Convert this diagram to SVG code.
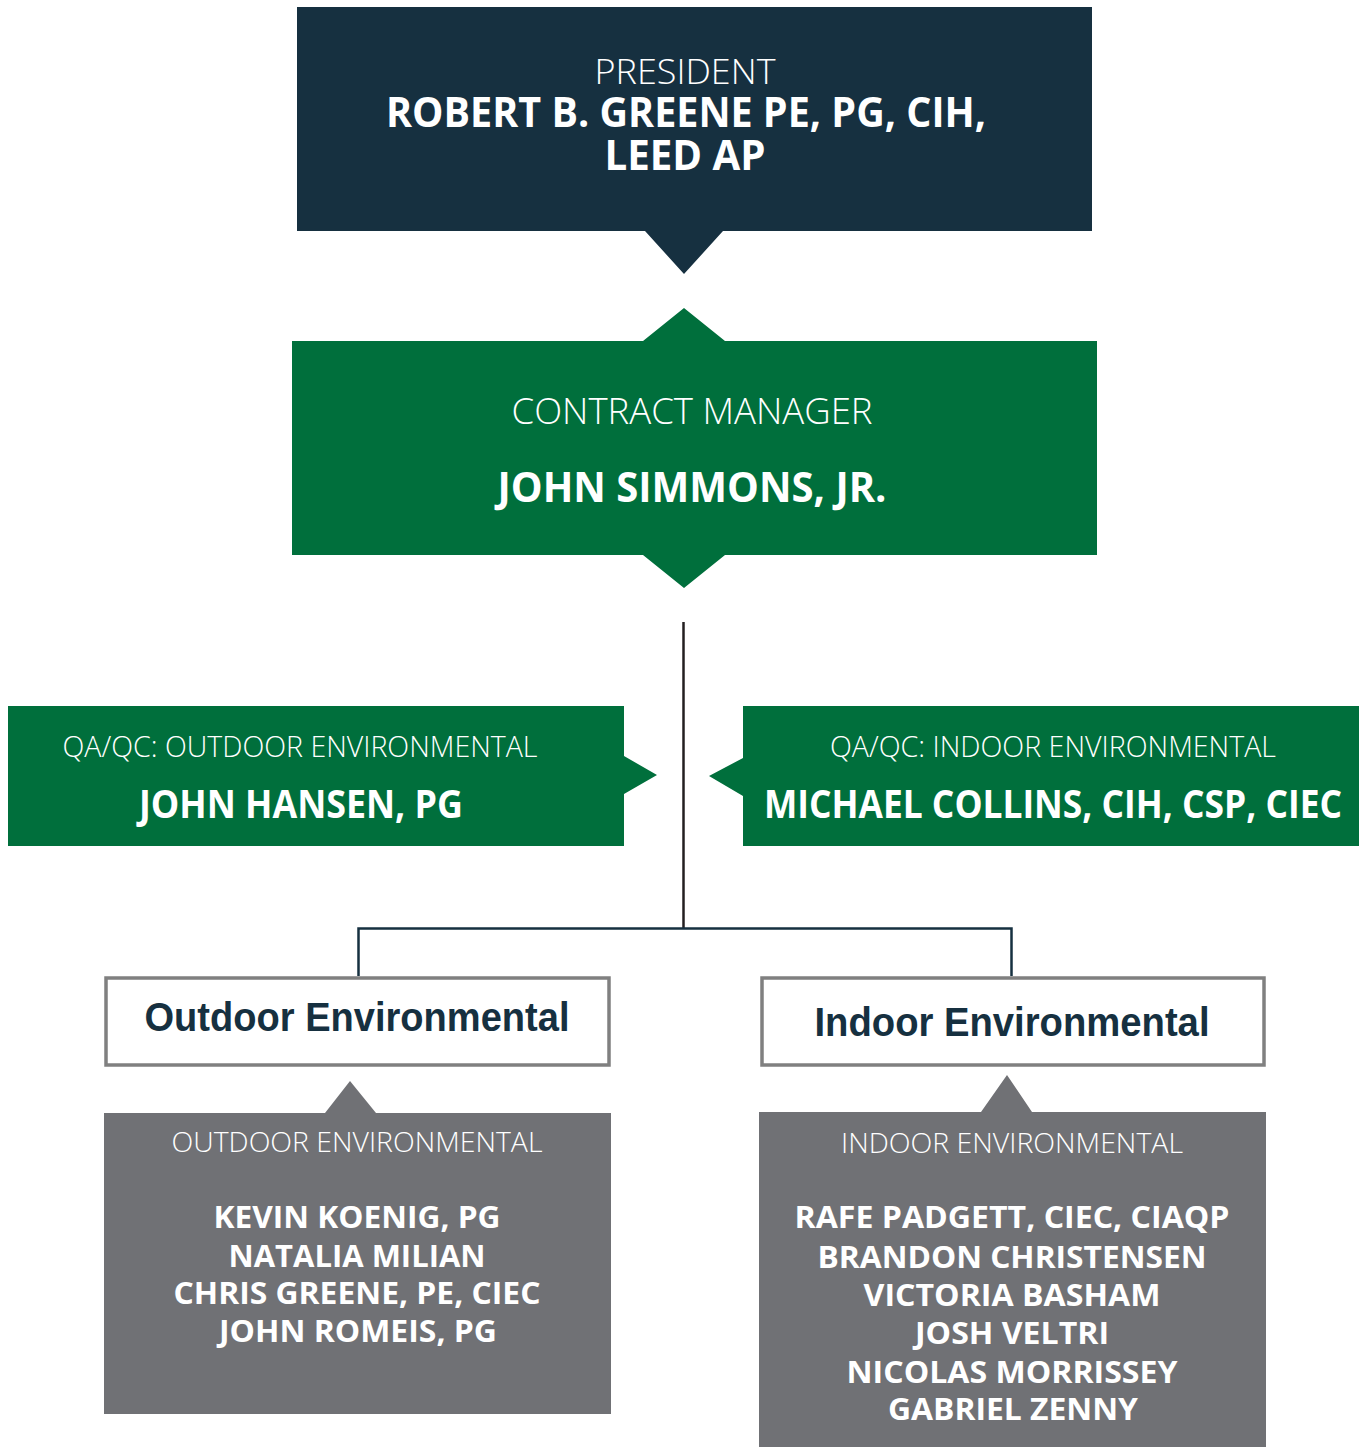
<svg xmlns="http://www.w3.org/2000/svg" width="1361" height="1447" viewBox="0 0 1361 1447">
<style>
.lt{font-family:"Open Sans","Noto Sans","Liberation Sans",sans-serif;font-weight:300;fill:#ffffff;text-anchor:middle}
.bd{font-family:"Open Sans","Noto Sans","Liberation Sans",sans-serif;font-weight:700;fill:#ffffff;text-anchor:middle}
.hd{font-family:"Liberation Sans",Arial,sans-serif;font-weight:700;fill:#163040;text-anchor:middle}
.navy{fill:#163040}
.green{fill:#006f3c}
.gray{fill:#707175}
.wbox{fill:#ffffff;stroke:#808080;stroke-width:3.5}
</style>
<rect width="1361" height="1447" fill="#ffffff"/>
<g id="connectors" fill="none" stroke-width="2.5">
<line x1="683.5" y1="622" x2="683.5" y2="928" stroke="#231f20"/>
<polyline points="358.5,976 358.5,928.5 1011.5,928.5 1011.5,976" stroke="#163040"/>
</g>
<g id="president">
<polygon class="navy" points="297,7 1092,7 1092,231 723,231 684,274 645,231 297,231"/>
<text class="lt" x="685" y="84" font-size="35" textLength="181" lengthAdjust="spacingAndGlyphs">PRESIDENT</text>
<text class="bd" x="686" y="127" font-size="42" textLength="600" lengthAdjust="spacingAndGlyphs">ROBERT B. GREENE PE, PG, CIH,</text>
<text class="bd" x="685" y="170" font-size="42" textLength="161" lengthAdjust="spacingAndGlyphs">LEED AP</text>
</g>
<g id="contract-manager">
<polygon class="green" points="292,341 643,341 684,308 725,341 1097,341 1097,555 725,555 684,588 643,555 292,555"/>
<text class="lt" x="692" y="424" font-size="36" textLength="361" lengthAdjust="spacingAndGlyphs">CONTRACT MANAGER</text>
<text class="bd" x="692" y="502" font-size="42" textLength="389" lengthAdjust="spacingAndGlyphs">JOHN SIMMONS, JR.</text>
</g>
<g id="qa-outdoor">
<polygon class="green" points="8,706 624,706 624,756 657,775 624,794 624,846 8,846"/>
<text class="lt" x="300" y="757" font-size="29" textLength="475" lengthAdjust="spacingAndGlyphs">QA/QC: OUTDOOR ENVIRONMENTAL</text>
<text class="bd" x="301" y="818" font-size="39" textLength="324" lengthAdjust="spacingAndGlyphs">JOHN HANSEN, PG</text>
</g>
<g id="qa-indoor">
<polygon class="green" points="743,706 1359,706 1359,846 743,846 743,796 709,776 743,758"/>
<text class="lt" x="1053" y="757" font-size="29" textLength="446" lengthAdjust="spacingAndGlyphs">QA/QC: INDOOR ENVIRONMENTAL</text>
<text class="bd" x="1053" y="818" font-size="39" textLength="578" lengthAdjust="spacingAndGlyphs">MICHAEL COLLINS, CIH, CSP, CIEC</text>
</g>
<g id="outdoor-header">
<rect class="wbox" x="106" y="978" width="503" height="87"/>
<text class="hd" x="357" y="1031" font-size="40" textLength="425" lengthAdjust="spacingAndGlyphs">Outdoor Environmental</text>
</g>
<g id="indoor-header">
<rect class="wbox" x="762" y="978" width="502" height="87"/>
<text class="hd" x="1012" y="1036" font-size="40" textLength="395" lengthAdjust="spacingAndGlyphs">Indoor Environmental</text>
</g>
<g id="outdoor-team">
<polygon class="gray" points="104,1113 325,1113 350,1081 376,1113 611,1113 611,1414 104,1414"/>
<text class="lt" x="357" y="1152" font-size="28" textLength="371" lengthAdjust="spacingAndGlyphs">OUTDOOR ENVIRONMENTAL</text>
<text class="bd" x="357" y="1228" font-size="31" textLength="287" lengthAdjust="spacingAndGlyphs">KEVIN KOENIG, PG</text>
<text class="bd" x="357" y="1267" font-size="31" textLength="257" lengthAdjust="spacingAndGlyphs">NATALIA MILIAN</text>
<text class="bd" x="357" y="1304" font-size="31" textLength="367" lengthAdjust="spacingAndGlyphs">CHRIS GREENE, PE, CIEC</text>
<text class="bd" x="358" y="1342" font-size="31" textLength="278" lengthAdjust="spacingAndGlyphs">JOHN ROMEIS, PG</text>
</g>
<g id="indoor-team">
<polygon class="gray" points="759,1112 981,1112 1007,1075 1032,1112 1266,1112 1266,1447 759,1447"/>
<text class="lt" x="1012" y="1153" font-size="28" textLength="342" lengthAdjust="spacingAndGlyphs">INDOOR ENVIRONMENTAL</text>
<text class="bd" x="1012" y="1228" font-size="31" textLength="435" lengthAdjust="spacingAndGlyphs">RAFE PADGETT, CIEC, CIAQP</text>
<text class="bd" x="1012" y="1268" font-size="31" textLength="389" lengthAdjust="spacingAndGlyphs">BRANDON CHRISTENSEN</text>
<text class="bd" x="1012" y="1306" font-size="31" textLength="297" lengthAdjust="spacingAndGlyphs">VICTORIA BASHAM</text>
<text class="bd" x="1012" y="1344" font-size="31" textLength="194" lengthAdjust="spacingAndGlyphs">JOSH VELTRI</text>
<text class="bd" x="1012" y="1383" font-size="31" textLength="331" lengthAdjust="spacingAndGlyphs">NICOLAS MORRISSEY</text>
<text class="bd" x="1013" y="1420" font-size="31" textLength="250" lengthAdjust="spacingAndGlyphs">GABRIEL ZENNY</text>
</g>
</svg>
